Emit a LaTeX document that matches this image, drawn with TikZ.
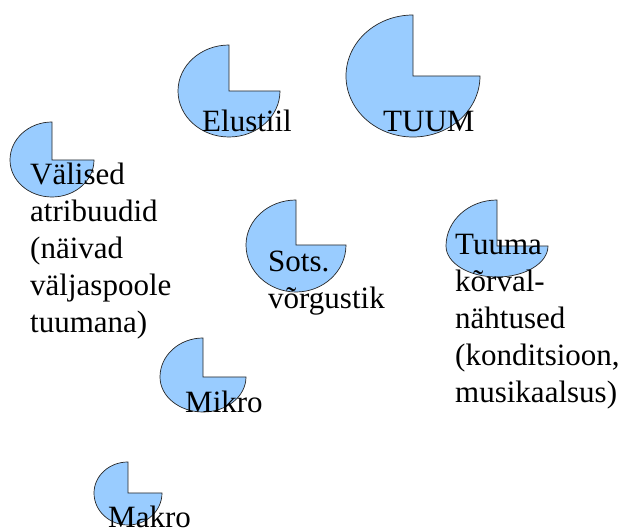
\documentclass[tikz,border=0pt]{standalone}
\usepackage{fontspec}
\setmainfont{Liberation Serif}
\usepackage{tikz}

\definecolor{pietaevas}{HTML}{99CCFF}
\tikzset{
    sektor/.style={fill=pietaevas, draw=black!85, line width=0.7pt},
    silt/.style={anchor=base west, inner sep=0pt, align=left,
        font=\fontsize{31}{37}\selectfont}
}
% center x, center y, x radius, top radius, bottom radius
\newcommand{\sektor}[5]{%
    \filldraw[sektor] (#1,#2) -- (#1,#2+#4)
        arc[start angle=90, end angle=180, x radius=#3, y radius=#4]
        arc[start angle=180, end angle=360, x radius=#3, y radius=#5] -- cycle;
}

\begin{document}
\begin{tikzpicture}[x=1pt,y=1pt]
    \useasboundingbox (0,0) rectangle (622,530);
    \sektor{413}{454}{67}{61}{61}
    \sektor{229}{439}{51}{46}{46}
    \sektor{52}{370}{42}{38}{37}
    \sektor{296}{285}{50}{45}{47}
    \sektor{497}{284}{51}{46}{31}
    \sektor{203}{153}{43}{39}{35}
    \sektor{128}{37}{34}{31}{32}
    \node[silt] (tuum) at (383,398) {TUUM};
    \node[silt] (elustiil) at (202,398) {Elustiil};
    \node[silt] (valised) at (30,345) {\parbox[t]{160pt}{\raggedright Välised\\ atribuudid\\ (näivad\\ väljaspoole\\ tuumana)}};
    \node[silt] (sots) at (268,258) {\parbox[t]{160pt}{\raggedright Sots.\\ võrgustik}};
    \node[silt] (korval) at (455,275) {\parbox[t]{170pt}{\raggedright Tuuma\\ kõrval-\\ nähtused\\ (konditsioon,\\ musikaalsus)}};
    \node[silt] (mikro) at (185,117) {Mikro};
    \node[silt] (makro) at (108,2) {Makro};
\end{tikzpicture}
\end{document}
